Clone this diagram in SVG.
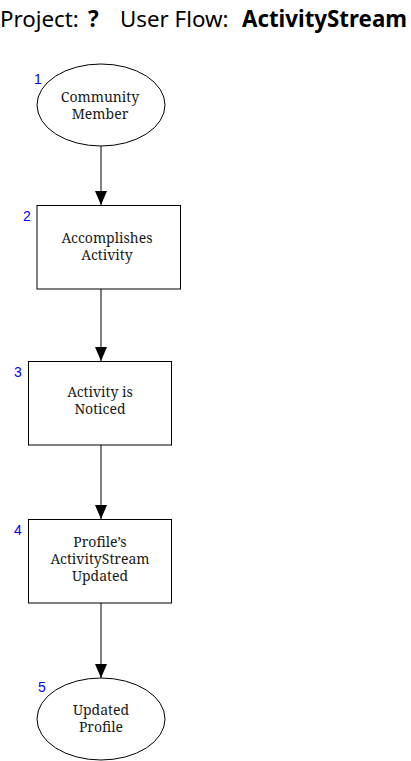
<svg xmlns="http://www.w3.org/2000/svg" width="411" height="761" viewBox="0 0 411 761">
<style>
.shape{fill:#fff;stroke:#000;stroke-width:1}
.t{font-family:"Noto Serif","DejaVu Serif","Liberation Serif",serif;font-size:14px;fill:#1a1a1a;text-anchor:middle}
.n{font-family:"Liberation Sans",Arial,sans-serif;font-size:14px;fill:#0000ff}
.edge{stroke:#000;stroke-width:1;fill:none}
.title{font-family:"Noto Sans","Open Sans",sans-serif;font-size:22.3px;fill:#000}
</style>
<defs>
<marker id="ah" markerWidth="14" markerHeight="12" refX="14" refY="6" orient="auto" markerUnits="userSpaceOnUse" viewBox="0 0 14 12">
<path d="M0,0 L14,6 L0,12 z" fill="#000"/>
</marker>
</defs>
<text class="title" y="27"><tspan x="0">Project:</tspan><tspan x="88" font-weight="bold">?</tspan><tspan x="120">User Flow:</tspan><tspan x="242" font-weight="bold">ActivityStream</tspan></text>
<g id="connectors">
<line class="edge" x1="101" y1="146" x2="101" y2="205" marker-end="url(#ah)"/>
<line class="edge" x1="101" y1="289" x2="101" y2="361" marker-end="url(#ah)"/>
<line class="edge" x1="101" y1="445" x2="101" y2="519" marker-end="url(#ah)"/>
<line class="edge" x1="101" y1="603" x2="101" y2="678" marker-end="url(#ah)"/>
</g>
<g id="node1">
<ellipse class="shape" cx="101" cy="105" rx="64" ry="41"/>
<text class="n" x="34" y="84">1</text>
<text class="t" y="102"><tspan x="100">Community</tspan><tspan x="100" dy="17">Member</tspan></text>
</g>
<g id="node2">
<rect class="shape" x="37" y="205.5" width="143.5" height="83.5"/>
<text class="n" x="23" y="221">2</text>
<text class="t" y="243"><tspan x="107">Accomplishes</tspan><tspan x="107" dy="17">Activity</tspan></text>
</g>
<g id="node3">
<rect class="shape" x="28.5" y="361.5" width="143" height="83.5"/>
<text class="n" x="14" y="377">3</text>
<text class="t" y="397"><tspan x="100">Activity is</tspan><tspan x="100" dy="17">Noticed</tspan></text>
</g>
<g id="node4">
<rect class="shape" x="28.5" y="519.5" width="143" height="83.5"/>
<text class="n" x="14" y="535">4</text>
<text class="t" y="547"><tspan x="100">Profile’s</tspan><tspan x="100" dy="17">ActivityStream</tspan><tspan x="100" dy="17">Updated</tspan></text>
</g>
<g id="node5">
<ellipse class="shape" cx="101" cy="719" rx="64" ry="41"/>
<text class="n" x="38" y="692">5</text>
<text class="t" y="715"><tspan x="101">Updated</tspan><tspan x="101" dy="17">Profile</tspan></text>
</g>
</svg>
